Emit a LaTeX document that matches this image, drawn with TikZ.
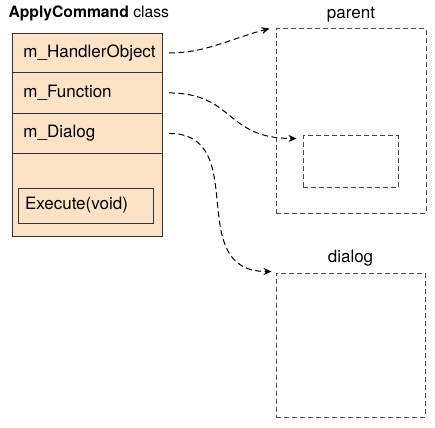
\documentclass[tikz,border=0pt]{standalone}
\usepackage{fontspec}
\setmainfont{TeX Gyre Heros}
\usetikzlibrary{arrows.meta,positioning,calc}

\definecolor{peach}{HTML}{FCE2C6}
\definecolor{framegray}{HTML}{4A4A4A}

\tikzset{
  member/.style={draw=black!80, line width=0.9pt, fill=peach, minimum width=150pt,
    text width=128pt, align=left, inner sep=0pt, anchor=north west,
    font=\fontsize{17}{20}\selectfont},
  method/.style={draw=black!80, line width=0.9pt, minimum width=135pt,
    minimum height=35pt, text width=121pt, align=left, inner sep=0pt,
    font=\fontsize{17}{20}\selectfont},
  frame/.style={draw=framegray, line width=1pt, dash pattern=on 5pt off 3pt,
    inner sep=0pt},
  caption/.style={font=\fontsize{17}{20}\selectfont},
  link/.style={-{Stealth[length=8pt,width=7pt]}, line width=1pt,
    dash pattern=on 6pt off 3.5pt, shorten <=6pt},
}

\begin{document}
\begin{tikzpicture}[x=1pt, y=-1pt]
\useasboundingbox (0,0) rectangle (435,427);

\node[anchor=base west, font=\fontsize{15.7}{18}\selectfont] (title) at (5,18)
  {\textbf{ApplyCommand} class};

\node[member, minimum height=39pt] (handler) at (12,33) {m\_HandlerObject};
\node[member, minimum height=41pt] (function) at (12,72) {m\_Function};
\node[member, minimum height=40pt] (dialogptr) at (12,113) {m\_Dialog};
\node[member, minimum height=83pt] (methods) at (12,153) {};
\node[method] (execute) at (85.5,205.5) {Execute(void)};

\node[frame, minimum width=150pt, minimum height=184pt] (parent) at (351,121) {};
\node[frame, minimum width=95pt, minimum height=52pt] (inner) at (350.5,162) {};
\node[frame, minimum width=149pt, minimum height=144pt] (dialog) at (350.5,345) {};

\node[caption, above=3pt of parent] (parentlabel) {parent};
\node[caption, above=3pt of dialog] (dialoglabel) {dialog};

\coordinate (parentin) at ($(parent.north west)+(-6,0)$);
\coordinate (innerin) at ($(inner.north west)+(-6,3)$);
\coordinate (dialogin) at ($(dialog.north west)+(-4,-1)$);

\draw[link] (handler.east) to[out=0, in=195] (parentin);
\draw[link] (function.east) to[out=0, in=180, looseness=1.3] (innerin);
\draw[link] (dialogptr.east) to[out=0, in=180, looseness=1.3] (dialogin);

\end{tikzpicture}
\end{document}
